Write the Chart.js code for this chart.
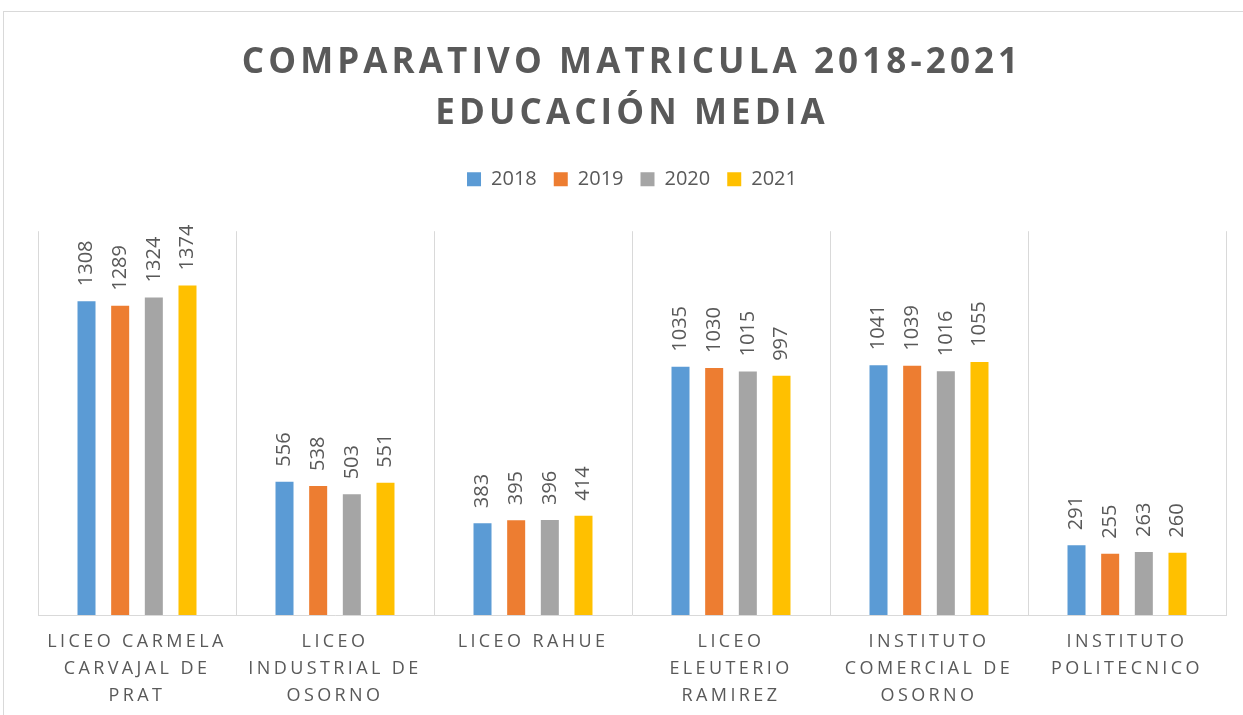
<!DOCTYPE html>
<html>
<head>
<meta charset="utf-8">
<script src="https://cdn.jsdelivr.net/npm/chart.js@4/dist/chart.umd.min.js"></script>
<style>
  html, body { margin: 0; padding: 0; background: #fff; overflow: hidden; }
  #frame { position: absolute; left: 3px; top: 11px; width: 1260px; height: 720px; border: 1px solid #d9d9d9; }
  #chart { position: absolute; left: 0; top: 0; }
</style>
</head>
<body>
<div id="frame"></div>
<canvas id="chart" width="1243" height="715"></canvas>
<script>
const categories = [
  ["LICEO CARMELA", "CARVAJAL DE", "PRAT"],
  ["LICEO", "INDUSTRIAL DE", "OSORNO"],
  ["LICEO RAHUE"],
  ["LICEO", "ELEUTERIO", "RAMIREZ"],
  ["INSTITUTO", "COMERCIAL DE", "OSORNO"],
  ["INSTITUTO", "POLITECNICO"]
];
const years = ["2018", "2019", "2020", "2021"];
const values2018 = [1308, 556, 383, 1035, 1041, 291];
const values2019 = [1289, 538, 395, 1030, 1039, 255];
const values2020 = [1324, 503, 396, 1015, 1016, 263];
const values2021 = [1374, 551, 414, 997, 1055, 260];

const COLORS = {
  text: "#595959",
  grid: "#d9d9d9",
  bars: ["#5B9BD5", "#ED7D31", "#A5A5A5", "#FFC000"]
};
const FONT = "'Open Sans', 'DejaVu Sans', sans-serif";

// wrap a draw method so its text gets letter spacing
function withSpacing(obj, name, spacing) {
  if (!obj || obj["_spaced_" + name]) return;
  const orig = obj[name];
  obj[name] = function (...args) {
    const ctx = this.ctx;
    ctx.save();
    ctx.letterSpacing = spacing;
    orig.apply(this, args);
    ctx.restore();
  };
  obj["_spaced_" + name] = true;
}

const spacingPlugin = {
  id: "spacing",
  beforeInit(chart) {
    const legend = chart.legend;
    const fit = legend.fit;
    legend.fit = function () {
      fit.call(this);
      this.height += 32;
    };
  },
  beforeDraw(chart) {
    withSpacing(chart.titleBlock, "draw", "4.1px");
    withSpacing(chart.scales.x, "drawLabels", "3.4px");
  }
};

const valueLabels = {
  id: "valueLabels",
  afterDatasetsDraw(chart) {
    const ctx = chart.ctx;
    ctx.save();
    ctx.fillStyle = COLORS.text;
    ctx.font = "20px " + FONT;
    ctx.textAlign = "left";
    ctx.textBaseline = "middle";
    chart.data.datasets.forEach((ds, i) => {
      chart.getDatasetMeta(i).data.forEach((bar, j) => {
        ctx.save();
        ctx.translate(bar.x, bar.y - 15);
        ctx.rotate(-Math.PI / 2);
        ctx.fillText(String(ds.data[j]), 0, 0);
        ctx.restore();
      });
    });
    ctx.restore();
  }
};

const series = [values2018, values2019, values2020, values2021];

new Chart(document.getElementById("chart"), {
  type: "bar",
  data: {
    labels: categories,
    datasets: years.map((y, i) => ({
      label: y,
      data: series[i],
      backgroundColor: COLORS.bars[i],
      categoryPercentage: 0.68,
      barPercentage: 0.535
    }))
  },
  options: {
    responsive: false,
    animation: false,
    layout: { padding: { left: 38, right: 17, top: 10, bottom: -7 } },
    plugins: {
      title: {
        display: true,
        text: ["COMPARATIVO MATRICULA 2018-2021", "EDUCACIÓN MEDIA"],
        color: COLORS.text,
        font: { family: FONT, size: 35, weight: "bold", lineHeight: 1.46 },
        padding: { top: 27, bottom: 13 }
      },
      legend: {
        labels: {
          color: COLORS.text,
          font: { family: FONT, size: 20 },
          boxWidth: 14,
          boxHeight: 14,
          padding: 17
        }
      },
      tooltip: { enabled: false }
    },
    scales: {
      x: {
        grid: { color: COLORS.grid, drawTicks: false, offset: true },
        border: { color: COLORS.grid },
        ticks: {
          color: COLORS.text,
          font: { family: FONT, size: 18, lineHeight: 1.5 },
          padding: 13,
          maxRotation: 0,
          autoSkip: false
        }
      },
      y: { display: false, min: 0, max: 1600 }
    }
  },
  plugins: [spacingPlugin, valueLabels]
});
</script>
</body>
</html>
